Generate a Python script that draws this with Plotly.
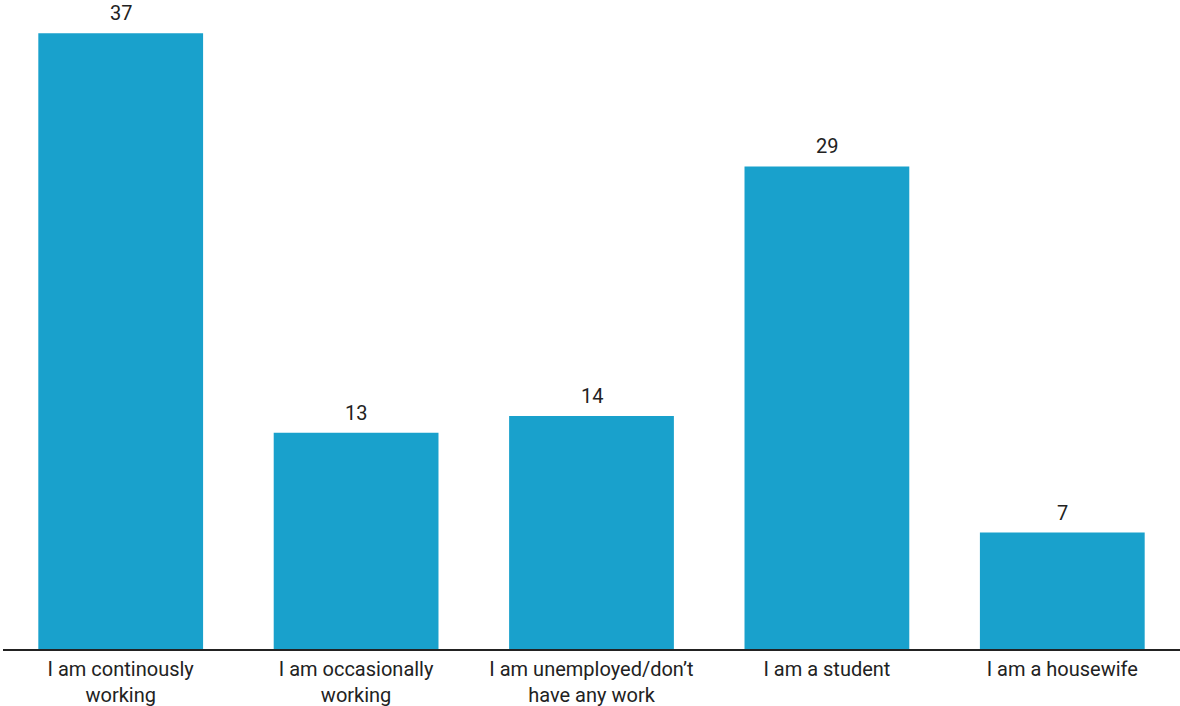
import plotly.graph_objects as go

categories = ["I am continously<br>working", "I am occasionally<br>working",
              "I am unemployed/don’t<br>have any work", "I am a student", "I am a housewife"]
values = [37, 13, 14, 29, 7]

BAR = "#19a1cc"
TXT = "#222222"

fig = go.Figure(go.Bar(x=categories, y=values, marker_color=BAR, marker_line_width=0,
                       hoverinfo="skip"))

for c, v in zip(categories, values):
    fig.add_annotation(x=c, y=v, text=str(v), showarrow=False, yanchor="bottom",
                       yshift=6, font=dict(family="Roboto", size=20, color=TXT))

fig.update_layout(
    width=1180, height=706,
    margin=dict(l=3, r=0, t=0, b=57),
    plot_bgcolor="white", paper_bgcolor="white",
    bargap=0.3, showlegend=False,
    font=dict(family="Roboto", size=20, color=TXT),
    xaxis=dict(showline=True, linecolor="#222222", linewidth=1.5, ticks="",
               tickfont=dict(size=20, color=TXT), showgrid=False, ticklabelstandoff=1),
    yaxis=dict(range=[0, 39], visible=False, showgrid=False),
)
fig.write_html("out.html", post_script="document.body.style.margin='0';",
               config={"displayModeBar": False})
